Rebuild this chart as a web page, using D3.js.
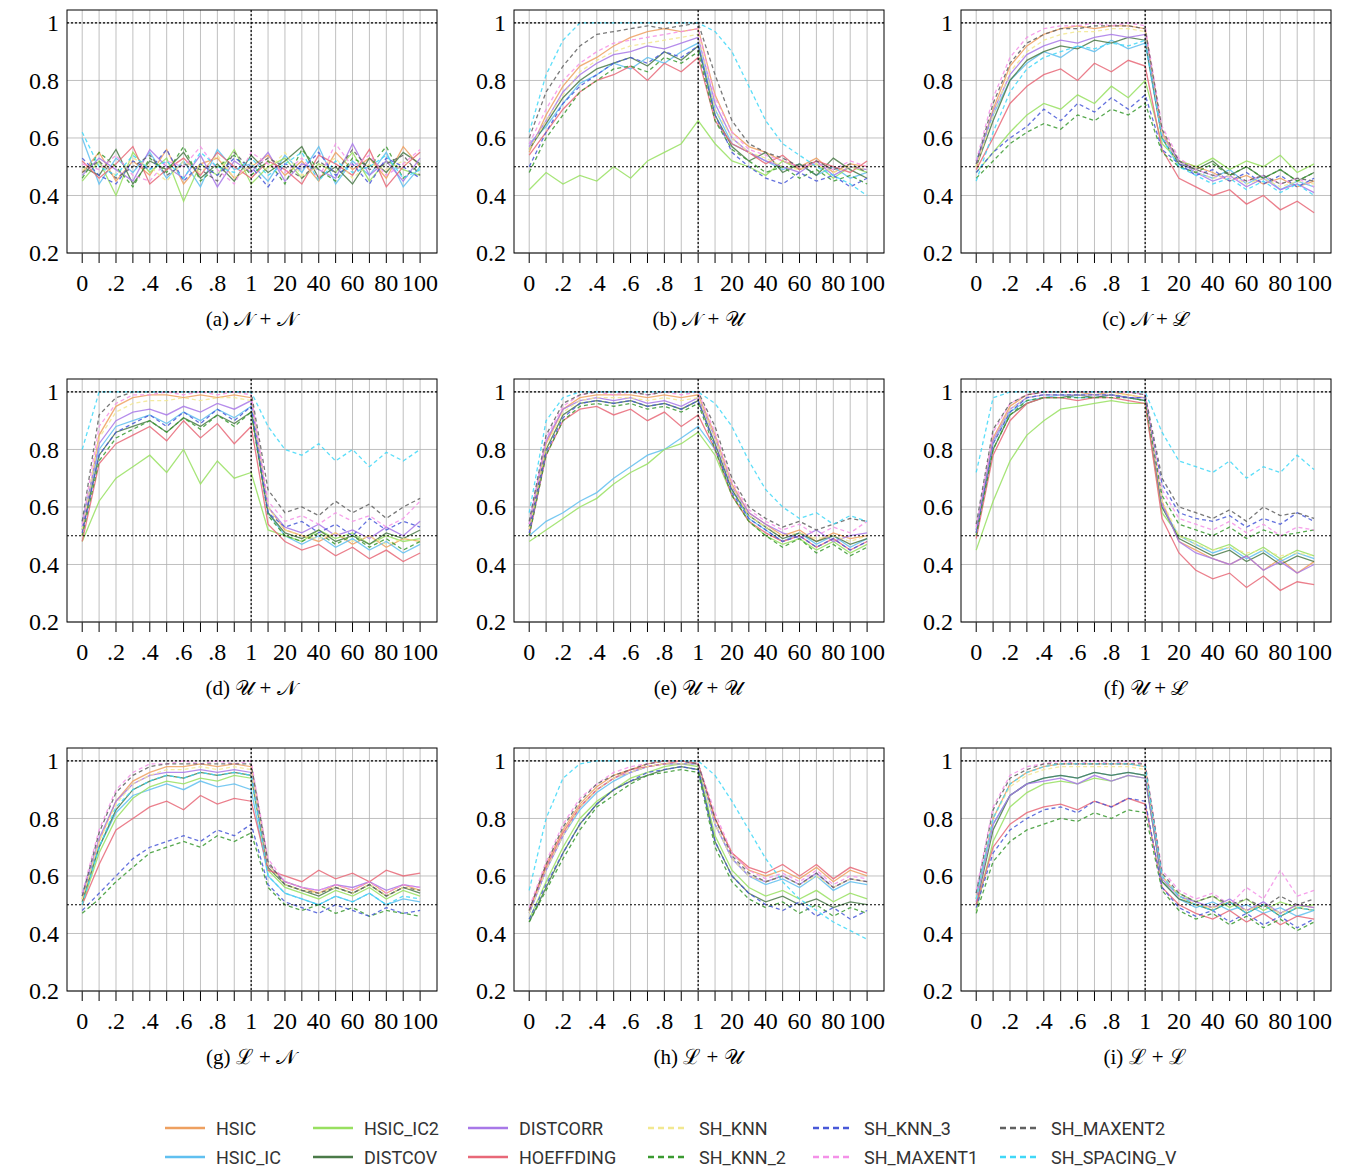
<!DOCTYPE html>
<html>
<head>
<meta charset="utf-8">
<script src="https://cdn.jsdelivr.net/npm/d3@7"></script>
<style>
  body { margin: 0; background: #fff; }
  .serif { font-family: 'Liberation Serif'; }
  .sans { font-family: 'Roboto'; }
</style>
</head>
<body>
<svg id="chart" width="1353" height="1174"></svg>
<script>
'use strict';

// series names, in drawing order
const seriesNames = ['HSIC', 'HSIC_IC', 'HSIC_IC2', 'DISTCOV', 'DISTCORR', 'HOEFFDING',
    'SH_KNN', 'SH_KNN_2', 'SH_KNN_3', 'SH_MAXENT1', 'SH_MAXENT2', 'SH_SPACING_V'];

// x samples: 0..1 on the left half, 10..100 on the right half
const xLeft = [0, 0.1, 0.2, 0.3, 0.4, 0.5, 0.6, 0.7, 0.8, 0.9, 1];
const xRight = [10, 20, 30, 40, 50, 60, 70, 80, 90, 100];

const tickLabels = ['0', '.2', '.4', '.6', '.8', '1', '20', '40', '60', '80', '100'];
const captions = ['(a) 𝒩 + 𝒩', '(b) 𝒩 + 𝒰', '(c) 𝒩 + ℒ', '(d) 𝒰 + 𝒩', '(e) 𝒰 + 𝒰',
    '(f) 𝒰 + ℒ', '(g) ℒ + 𝒩', '(h) ℒ + 𝒰', '(i) ℒ + ℒ'];

const panelA = [
[.48,.55,.45,.52,.47,.56,.44,.51,.53,.46,.50,.54,.47,.52,.45,.55,.49,.53,.46,.57,.50],
[.60,.44,.53,.48,.55,.46,.52,.43,.56,.49,.51,.45,.54,.48,.57,.44,.52,.47,.55,.43,.50],
[.45,.52,.40,.55,.48,.53,.38,.51,.47,.56,.44,.50,.53,.46,.51,.48,.55,.45,.52,.49,.47],
[.50,.47,.56,.44,.52,.49,.55,.46,.51,.45,.54,.48,.52,.57,.46,.50,.44,.53,.48,.55,.51],
[.47,.53,.49,.45,.56,.50,.46,.54,.43,.52,.48,.55,.45,.51,.49,.46,.58,.47,.52,.45,.53],
[.52,.46,.51,.57,.44,.49,.53,.47,.55,.50,.46,.52,.49,.44,.54,.51,.47,.56,.43,.50,.55],
[.49,.51,.47,.53,.50,.45,.52,.48,.54,.46,.51,.49,.55,.47,.50,.53,.46,.51,.49,.52,.48],
[.46,.55,.50,.43,.53,.48,.57,.45,.50,.54,.47,.52,.44,.56,.49,.45,.53,.50,.57,.46,.51],
[.53,.47,.44,.52,.49,.56,.45,.51,.47,.53,.50,.43,.51,.49,.55,.47,.51,.44,.53,.50,.46],
[.51,.49,.54,.47,.45,.52,.50,.57,.49,.44,.55,.51,.48,.53,.46,.58,.50,.54,.47,.51,.56],
[.48,.52,.46,.50,.54,.47,.51,.49,.45,.55,.49,.53,.50,.46,.52,.48,.56,.49,.51,.54,.47],
[.62,.50,.47,.54,.49,.52,.46,.55,.50,.48,.53,.47,.51,.55,.45,.52,.48,.50,.54,.46,.49]];

const panelB = [
[.55,.68,.78,.85,.88,.92,.95,.97,.98,.97,.98,.75,.62,.57,.55,.52,.50,.53,.48,.51,.50],
[.58,.64,.72,.79,.82,.86,.84,.88,.86,.90,.93,.70,.58,.55,.52,.49,.51,.47,.50,.46,.48],
[.42,.48,.44,.47,.45,.50,.46,.52,.55,.58,.66,.58,.52,.50,.47,.52,.49,.51,.46,.50,.48],
[.56,.65,.74,.80,.84,.86,.88,.85,.90,.87,.92,.68,.57,.52,.55,.48,.51,.47,.53,.49,.46],
[.57,.66,.76,.82,.86,.89,.90,.92,.91,.93,.95,.72,.60,.55,.52,.50,.48,.52,.47,.50,.49],
[.54,.62,.70,.76,.80,.82,.85,.80,.86,.83,.88,.66,.58,.55,.51,.54,.49,.52,.50,.48,.52],
[.56,.66,.75,.83,.87,.90,.92,.93,.94,.95,.96,.70,.60,.55,.53,.50,.49,.51,.48,.50,.49],
[.48,.60,.68,.76,.80,.84,.85,.83,.88,.86,.90,.66,.56,.52,.48,.50,.46,.49,.45,.47,.44],
[.50,.62,.72,.78,.82,.86,.88,.86,.90,.88,.92,.68,.55,.50,.46,.44,.48,.45,.47,.43,.46],
[.58,.70,.80,.86,.90,.93,.94,.95,.96,.97,.98,.74,.62,.56,.54,.52,.50,.51,.49,.52,.50],
[.60,.76,.85,.92,.96,.97,.98,.99,.98,.99,1.0,.82,.66,.58,.55,.53,.50,.52,.49,.51,.48],
[.62,.82,.94,1.0,1.0,1.0,1.0,1.0,1.0,1.0,1.0,.97,.90,.78,.66,.58,.54,.50,.47,.44,.40]];

const panelC = [
[.50,.70,.85,.92,.96,.98,.99,.98,.99,.99,.98,.62,.52,.50,.48,.45,.47,.44,.46,.43,.45],
[.52,.68,.80,.86,.90,.88,.92,.90,.94,.91,.93,.60,.50,.48,.46,.49,.44,.47,.42,.45,.43],
[.48,.55,.62,.68,.72,.70,.75,.72,.78,.74,.80,.58,.52,.50,.53,.49,.52,.50,.54,.48,.51],
[.50,.66,.80,.87,.90,.92,.91,.94,.93,.95,.94,.60,.51,.49,.52,.47,.50,.46,.49,.45,.48],
[.51,.69,.82,.89,.92,.94,.93,.95,.96,.95,.96,.61,.52,.48,.45,.47,.43,.46,.42,.44,.41],
[.49,.60,.72,.78,.82,.84,.80,.86,.83,.87,.85,.56,.46,.43,.40,.42,.37,.40,.35,.38,.34],
[.50,.68,.83,.90,.94,.96,.97,.97,.98,.98,.97,.61,.50,.48,.46,.47,.44,.46,.43,.45,.44],
[.46,.52,.58,.62,.65,.63,.68,.66,.70,.68,.72,.55,.50,.48,.51,.47,.50,.46,.49,.45,.48],
[.48,.55,.60,.64,.70,.66,.72,.69,.74,.70,.75,.56,.51,.47,.49,.45,.48,.44,.47,.43,.46],
[.52,.74,.88,.95,.98,.99,.99,1.0,.99,1.0,.99,.64,.53,.49,.47,.46,.45,.47,.44,.46,.43],
[.51,.72,.86,.93,.96,.98,.98,.99,.99,.99,.98,.63,.52,.49,.47,.48,.45,.47,.44,.46,.45],
[.45,.62,.76,.84,.88,.90,.92,.91,.93,.92,.94,.60,.50,.47,.44,.46,.42,.45,.41,.44,.40]];

const panelD = [
[.50,.85,.95,.98,.99,.99,.98,.99,.98,.99,.98,.60,.52,.50,.48,.51,.47,.50,.46,.49,.48],
[.55,.80,.88,.90,.92,.89,.93,.90,.94,.91,.95,.58,.50,.47,.50,.46,.49,.45,.48,.44,.47],
[.48,.62,.70,.74,.78,.72,.80,.68,.76,.70,.72,.52,.50,.48,.52,.49,.51,.47,.50,.48,.49],
[.52,.78,.86,.88,.90,.86,.91,.88,.92,.89,.93,.58,.51,.49,.52,.48,.50,.47,.51,.49,.52],
[.53,.82,.90,.93,.94,.92,.95,.93,.96,.94,.97,.60,.53,.51,.54,.50,.52,.49,.53,.50,.55],
[.48,.75,.82,.85,.88,.83,.90,.84,.89,.82,.88,.54,.48,.45,.47,.43,.46,.42,.45,.41,.44],
[.52,.84,.93,.96,.97,.97,.98,.97,.98,.98,.97,.60,.52,.50,.49,.51,.48,.50,.47,.49,.48],
[.50,.76,.84,.87,.90,.86,.91,.87,.92,.88,.93,.57,.50,.48,.51,.47,.50,.46,.49,.45,.48],
[.51,.78,.86,.89,.92,.88,.93,.89,.94,.90,.95,.58,.53,.55,.51,.54,.50,.56,.52,.55,.53],
[.54,.88,.96,.99,.99,1.0,.99,1.0,.99,1.0,.99,.62,.55,.57,.54,.58,.55,.57,.53,.56,.62],
[.55,.92,.98,1.0,1.0,1.0,1.0,1.0,1.0,1.0,1.0,.66,.58,.60,.57,.62,.58,.61,.56,.60,.63],
[.80,1.0,1.0,1.0,1.0,1.0,1.0,1.0,1.0,1.0,1.0,.88,.80,.78,.82,.76,.80,.74,.79,.76,.80]];

const panelE = [
[.52,.82,.94,.98,.99,.99,.99,.98,.99,.98,.99,.85,.68,.58,.54,.50,.52,.48,.51,.49,.50],
[.50,.55,.58,.62,.65,.70,.74,.78,.80,.84,.88,.80,.66,.56,.52,.48,.51,.47,.50,.46,.49],
[.48,.52,.56,.60,.63,.68,.72,.75,.80,.82,.86,.78,.64,.55,.50,.47,.49,.45,.48,.44,.47],
[.53,.80,.92,.96,.97,.96,.97,.95,.96,.94,.97,.82,.66,.57,.53,.49,.51,.48,.50,.47,.49],
[.54,.83,.94,.97,.98,.97,.98,.96,.97,.95,.98,.84,.67,.58,.54,.51,.49,.52,.48,.50,.51],
[.50,.78,.90,.94,.95,.92,.94,.90,.93,.88,.92,.80,.64,.55,.51,.48,.50,.46,.49,.45,.48],
[.52,.81,.93,.97,.98,.98,.98,.97,.98,.97,.98,.84,.67,.57,.53,.50,.51,.49,.50,.48,.50],
[.50,.78,.90,.95,.96,.95,.96,.94,.95,.93,.96,.80,.64,.55,.50,.46,.49,.44,.47,.43,.46],
[.51,.79,.91,.96,.97,.96,.97,.95,.96,.94,.97,.81,.65,.56,.52,.48,.50,.46,.49,.45,.48],
[.54,.84,.95,.99,1.0,.99,1.0,.99,1.0,.99,1.0,.86,.69,.59,.55,.52,.54,.50,.53,.51,.55],
[.55,.85,.96,.99,1.0,1.0,1.0,.99,1.0,1.0,1.0,.88,.70,.60,.56,.53,.55,.52,.54,.56,.55],
[.58,.90,.98,1.0,1.0,1.0,1.0,1.0,1.0,1.0,1.0,.96,.88,.76,.66,.60,.56,.58,.54,.57,.55]];

const panelF = [
[.50,.84,.95,.99,1.0,1.0,1.0,.99,1.0,.99,.98,.62,.48,.45,.42,.40,.43,.38,.42,.37,.41],
[.52,.82,.93,.97,.98,.99,.98,.98,.99,.98,.97,.60,.50,.47,.44,.46,.42,.45,.41,.44,.42],
[.45,.62,.76,.85,.90,.94,.95,.96,.97,.96,.96,.58,.50,.48,.45,.47,.43,.46,.42,.45,.43],
[.51,.80,.92,.96,.98,.98,.99,.98,.99,.98,.97,.60,.49,.46,.43,.45,.41,.44,.40,.43,.41],
[.52,.83,.94,.98,.99,.99,.99,.99,.99,.98,.98,.61,.48,.44,.42,.40,.43,.38,.41,.37,.40],
[.49,.78,.90,.96,.98,.98,.97,.98,.98,.97,.96,.56,.44,.38,.35,.37,.32,.36,.31,.34,.33],
[.51,.82,.94,.98,.99,.99,.99,.99,.99,.99,.98,.62,.50,.47,.45,.46,.44,.45,.43,.44,.43],
[.50,.80,.92,.97,.98,.98,.98,.98,.98,.98,.97,.64,.54,.52,.50,.53,.49,.52,.50,.51,.52],
[.51,.82,.93,.98,.99,.99,.99,.99,.99,.98,.98,.68,.58,.56,.55,.57,.53,.56,.54,.58,.55],
[.53,.86,.96,.99,1.0,1.0,1.0,1.0,1.0,1.0,.99,.66,.56,.54,.52,.55,.51,.54,.50,.53,.52],
[.54,.87,.96,.99,1.0,1.0,1.0,1.0,1.0,1.0,.99,.70,.60,.58,.56,.59,.55,.60,.57,.58,.56],
[.72,.98,1.0,1.0,1.0,1.0,1.0,1.0,1.0,1.0,1.0,.86,.76,.74,.72,.76,.70,.74,.72,.78,.73]];

const panelG = [
[.52,.72,.86,.93,.96,.98,.98,.99,.98,.99,.98,.64,.58,.56,.54,.57,.55,.58,.54,.57,.55],
[.54,.70,.82,.88,.90,.92,.90,.93,.91,.92,.90,.60,.54,.52,.50,.53,.51,.54,.50,.52,.51],
[.50,.68,.80,.87,.91,.93,.92,.94,.93,.95,.94,.62,.56,.54,.52,.55,.53,.56,.52,.55,.53],
[.51,.70,.83,.90,.93,.95,.94,.96,.95,.96,.95,.63,.57,.55,.53,.56,.54,.57,.53,.56,.54],
[.53,.73,.86,.92,.95,.96,.96,.97,.96,.97,.96,.64,.58,.56,.55,.57,.56,.58,.55,.57,.56],
[.50,.64,.76,.80,.84,.86,.83,.88,.85,.87,.86,.62,.60,.58,.62,.59,.61,.58,.62,.60,.61],
[.52,.72,.85,.92,.95,.97,.97,.98,.97,.98,.97,.64,.57,.55,.54,.56,.54,.57,.53,.56,.55],
[.47,.52,.58,.63,.68,.70,.72,.70,.74,.72,.75,.56,.50,.48,.50,.47,.49,.46,.48,.47,.46],
[.48,.54,.60,.66,.70,.72,.74,.72,.76,.74,.78,.57,.51,.49,.47,.50,.48,.46,.49,.47,.48],
[.54,.76,.90,.96,.99,.99,1.0,.99,1.0,.99,1.0,.66,.58,.56,.55,.57,.55,.58,.54,.57,.56],
[.53,.75,.89,.95,.98,.99,.99,.99,.99,.99,.99,.65,.57,.55,.54,.56,.54,.57,.53,.56,.55],
[.50,.70,.84,.90,.93,.95,.94,.96,.95,.96,.95,.60,.54,.52,.50,.53,.51,.54,.50,.53,.52]];

const panelH = [
[.48,.64,.76,.85,.91,.95,.97,.99,1.0,1.0,.99,.80,.68,.62,.60,.62,.59,.63,.58,.62,.60],
[.47,.62,.74,.83,.89,.93,.96,.98,.99,.99,.99,.78,.66,.60,.57,.59,.56,.60,.55,.58,.57],
[.45,.58,.70,.80,.86,.90,.94,.96,.98,.99,.98,.74,.62,.56,.53,.55,.52,.55,.51,.54,.52],
[.44,.56,.68,.78,.85,.90,.93,.95,.97,.98,.97,.72,.60,.54,.51,.53,.50,.52,.49,.51,.50],
[.47,.62,.74,.84,.90,.94,.96,.98,.99,.99,.99,.78,.66,.60,.58,.60,.57,.61,.56,.59,.58],
[.48,.63,.75,.84,.90,.94,.97,.98,.99,1.0,.99,.80,.68,.63,.61,.64,.60,.64,.59,.63,.61],
[.47,.62,.74,.84,.90,.94,.96,.98,.99,.99,.99,.78,.66,.60,.58,.60,.57,.60,.56,.59,.58],
[.44,.55,.66,.76,.84,.88,.92,.95,.96,.97,.96,.70,.58,.52,.49,.51,.47,.50,.46,.49,.47],
[.45,.57,.68,.78,.85,.90,.93,.96,.97,.98,.97,.72,.60,.54,.50,.48,.51,.46,.49,.45,.48],
[.49,.65,.78,.87,.92,.96,.98,.99,1.0,1.0,.99,.82,.68,.62,.59,.61,.58,.62,.57,.60,.59],
[.48,.64,.77,.86,.92,.95,.97,.99,1.0,1.0,.99,.80,.67,.61,.58,.60,.57,.61,.56,.59,.58],
[.55,.80,.94,.99,1.0,1.0,1.0,1.0,1.0,1.0,1.0,.95,.86,.76,.66,.58,.52,.48,.44,.41,.38]];

const panelI = [
[.52,.80,.92,.96,.98,.99,.99,.99,.99,.99,.98,.60,.53,.50,.49,.51,.48,.50,.47,.50,.49],
[.54,.78,.88,.92,.94,.95,.94,.96,.95,.96,.95,.58,.52,.49,.51,.48,.50,.47,.49,.46,.48],
[.48,.72,.84,.89,.92,.93,.92,.94,.93,.95,.94,.58,.54,.51,.53,.49,.52,.48,.51,.49,.50],
[.50,.76,.88,.92,.94,.95,.94,.96,.95,.96,.95,.58,.52,.50,.48,.51,.47,.50,.46,.49,.48],
[.51,.78,.88,.92,.93,.94,.92,.95,.93,.95,.94,.59,.53,.51,.49,.52,.48,.51,.47,.50,.49],
[.50,.70,.78,.82,.84,.85,.83,.86,.84,.87,.85,.56,.50,.47,.45,.48,.44,.47,.43,.46,.45],
[.52,.80,.91,.95,.97,.98,.98,.98,.98,.98,.97,.60,.53,.50,.49,.51,.48,.50,.47,.49,.48],
[.47,.65,.72,.76,.78,.80,.79,.82,.80,.83,.82,.55,.48,.45,.47,.43,.46,.42,.45,.41,.44],
[.49,.68,.76,.80,.83,.84,.82,.86,.84,.87,.86,.56,.49,.46,.48,.44,.47,.43,.46,.42,.45],
[.55,.84,.95,.98,.99,1.0,.99,1.0,.99,1.0,.99,.62,.55,.52,.54,.50,.56,.52,.62,.53,.55],
[.54,.83,.94,.97,.99,.99,.99,.99,.99,.99,.99,.61,.54,.51,.53,.50,.52,.49,.53,.50,.52],
[.52,.80,.92,.96,.98,.99,.99,.99,.99,.99,.98,.60,.53,.50,.48,.51,.47,.50,.46,.49,.48]];

const panels = [panelA, panelB, panelC, panelD, panelE, panelF, panelG, panelH, panelI];

const colors = ['#eea060', '#60c0f0', '#98e060', '#4a7a48', '#a878e8', '#e86878',
    '#f2e890', '#3a9a30', '#4858d8', '#f490e8', '#606060', '#40d8f8'];
const dashed = [false, false, false, false, false, false, true, true, true, true, true, true];

// map both halves onto one axis: 0..1 -> 0..1, 1..100 -> 1..2
const toU = v => v <= 1 ? v : 1 + v / 100;
const xs = xLeft.concat(xRight).map(toU);

const svg = d3.select('#chart');
const colX = [67, 514, 961], rowY = [10, 379, 748];
const W = 370, H = 243;

const x = d3.scaleLinear().domain([-0.09, 2.1]).range([0, W]);
const y = d3.scaleLinear().domain([0.2, 1.045]).range([H, 0]);

panels.forEach((data, p) => {
    const g = svg.append('g')
        .attr('transform', `translate(${colX[p % 3]},${rowY[Math.floor(p / 3)]})`);

    // grid, with the vertical lines running on as ticks below the frame
    g.append('g').selectAll('line').data(d3.range(0, 21))
        .join('line')
        .attr('x1', d => x(d / 10)).attr('x2', d => x(d / 10))
        .attr('y1', 0).attr('y2', H)
        .attr('stroke', '#b0b0b0').attr('stroke-width', 0.8);
    g.append('g').selectAll('line').data(d3.range(0, 21))
        .join('line')
        .attr('x1', d => x(d / 10)).attr('x2', d => x(d / 10))
        .attr('y1', H).attr('y2', H + 10)
        .attr('stroke', '#000').attr('stroke-width', 1);
    g.append('g').selectAll('line').data([0.2, 0.4, 0.6, 0.8, 1])
        .join('line')
        .attr('x1', 0).attr('x2', W)
        .attr('y1', d => y(d)).attr('y2', d => y(d))
        .attr('stroke', '#b0b0b0').attr('stroke-width', 0.8);

    const clip = 'clip' + p;
    g.append('clipPath').attr('id', clip).append('rect').attr('width', W).attr('height', H);

    const line = d3.line().x((d, i) => x(xs[i])).y(d => y(d));
    g.append('g').attr('clip-path', `url(#${clip})`)
        .selectAll('path').data(data)
        .join('path')
        .attr('d', line)
        .attr('fill', 'none')
        .attr('stroke', (d, i) => colors[i])
        .attr('stroke-opacity', 0.85)
        .attr('stroke-width', 1.3)
        .attr('stroke-dasharray', (d, i) => dashed[i] ? '4,3' : null);

    // reference lines
    [1, 0.5].forEach(v => g.append('line')
        .attr('x1', 0).attr('x2', W).attr('y1', y(v)).attr('y2', y(v))
        .attr('stroke', '#000').attr('stroke-width', 1.2).attr('stroke-dasharray', '2,2'));
    g.append('line').attr('x1', x(1)).attr('x2', x(1)).attr('y1', 0).attr('y2', H)
        .attr('stroke', '#000').attr('stroke-width', 1.2).attr('stroke-dasharray', '2,2');

    g.append('rect').attr('width', W).attr('height', H)
        .attr('fill', 'none').attr('stroke', '#000').attr('stroke-width', 1);

    // axes labels
    g.append('g').selectAll('text').data([0.2, 0.4, 0.6, 0.8, 1])
        .join('text')
        .attr('class', 'serif')
        .attr('x', -8).attr('y', d => y(d)).attr('dy', '0.35em')
        .attr('text-anchor', 'end').attr('font-size', 24)
        .text(d => d === 1 ? '1' : d.toString());
    g.append('g').selectAll('text').data(tickLabels)
        .join('text')
        .attr('class', 'serif')
        .attr('x', (d, i) => x(i * 0.2)).attr('y', H + 38)
        .attr('text-anchor', 'middle').attr('font-size', 24)
        .text(d => d);
    g.append('text')
        .attr('class', 'serif')
        .attr('x', x(1)).attr('y', H + 73)
        .attr('text-anchor', 'middle').attr('font-size', 21)
        .text(captions[p]);
});

// legend
const legX = [165, 313, 468, 648, 813, 1000];
const leg = svg.append('g');
seriesNames.forEach((name, i) => {
    const cx = legX[Math.floor(i / 2)];
    const cy = 1128 + (i % 2) * 29;
    leg.append('line').attr('x1', cx).attr('x2', cx + 40).attr('y1', cy).attr('y2', cy)
        .attr('stroke', colors[i]).attr('stroke-width', 2.5)
        .attr('stroke-dasharray', dashed[i] ? '6,4' : null);
    leg.append('text').attr('class', 'sans')
        .attr('x', cx + 51).attr('y', cy + 7)
        .attr('font-size', 18).attr('fill', '#333')
        .text(name);
});
</script>
</body>
</html>
